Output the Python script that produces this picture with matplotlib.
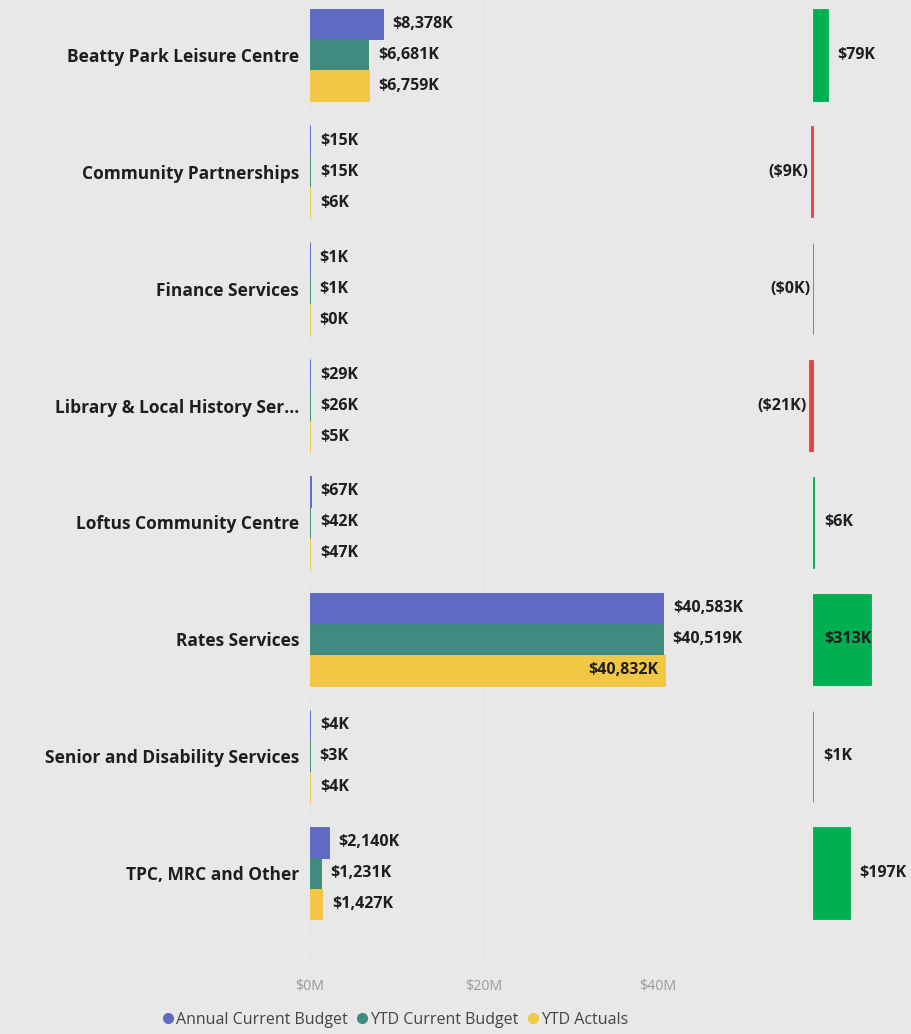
import matplotlib
matplotlib.use("Agg")
import matplotlib.pyplot as plt
from matplotlib.lines import Line2D

plt.rcParams['font.family'] = ['Open Sans', 'DejaVu Sans']

# data, values in $K
categories = ["Beatty Park Leisure Centre", "Community Partnerships", "Finance Services",
              "Library & Local History Ser...", "Loftus Community Centre", "Rates Services",
              "Senior and Disability Services", "TPC, MRC and Other"]
annual_budget = [8378, 15, 1, 29, 67, 40583, 4, 2140]
ytd_budget = [6681, 15, 1, 26, 42, 40519, 3, 1231]
ytd_actuals = [6759, 6, 0, 5, 47, 40832, 4, 1427]
variance = [79, -9, -0.4, -21, 6, 313, 1, 197]
series_names = ["Annual Current Budget", "YTD Current Budget", "YTD Actuals"]
x_ticks = [0, 20000, 40000]
x_tick_labels = ["$0M", "$20M", "$40M"]

colors = ["#5F6BC2", "#418A80", "#F2C744"]
bg = "#E8E8E8"
green = "#00B050"
red = "#E5433F"
txt_col = "#1E1E1E"

W, H = 912, 1034
fig = plt.figure(figsize=(W / 100, H / 100), dpi=100, facecolor=bg)

ax_top, ax_bot = 0, 962
ax = fig.add_axes([310 / W, 1 - ax_bot / H, 409 / W, (ax_bot - ax_top) / H])
ax2 = fig.add_axes([740 / W, 1 - ax_bot / H, 172 / W, (ax_bot - ax_top) / H])

n = len(categories)
ypos = list(range(n))
bh = 0.265
all_series = [annual_budget, ytd_budget, ytd_actuals]
vmax = max(max(s) for s in all_series)

for k, vals in enumerate(all_series):
    ys = [y + (k - 1) * bh for y in ypos]
    ax.barh(ys, vals, height=bh, color=colors[k], edgecolor=colors[k], linewidth=0.7)
    for y, v in zip(ys, vals):
        txt = f"${v:,.0f}K"
        if v == vmax:
            # biggest bar gets its label inside the end
            ax.annotate(txt, (v, y), xytext=(-5, 0), textcoords="offset points",
                        ha="right", va="center", fontsize=11.5, fontweight="bold", color=txt_col)
        else:
            ax.annotate(txt, (v, y), xytext=(7, 0), textcoords="offset points",
                        ha="left", va="center", fontsize=11.5, fontweight="bold", color=txt_col)

ax.set_xlim(0, 47000)
ax.set_ylim(7 + (ax_bot - 873) / 116.9, -55 / 116.9)
ax.set_yticks(ypos)
ax.set_yticklabels(categories, fontsize=12.5, fontweight="bold", color=txt_col)
ax.set_xticks(x_ticks)
ax.set_xticklabels(x_tick_labels, fontsize=10.3, color="#9A9A9A")
ax.tick_params(axis="both", length=0)
ax.tick_params(axis="y", pad=8)
ax.tick_params(axis="x", pad=12)
ax.grid(axis="x", linestyle=":", color="#DDDDDD", linewidth=0.8)
ax.set_axisbelow(True)
ax.set_facecolor("none")
for s in ax.spines.values():
    s.set_visible(False)

# variance panel (actuals vs ytd budget)
vcols = [green if v >= 0 else red for v in variance]
ax2.barh(ypos, variance, height=0.78, color=vcols, edgecolor=vcols, linewidth=0.6)
vtop = max(variance)
for y, v in zip(ypos, variance):
    if v < 0:
        txt = f"(${abs(v):,.0f}K)"
        ax2.annotate(txt, (v, y), xytext=(-2, 0), textcoords="offset points",
                     ha="right", va="center", fontsize=11.5, fontweight="bold", color=txt_col)
    elif v == vtop:
        ax2.annotate(f"${v:,.0f}K", (v, y), xytext=(0, 0), textcoords="offset points",
                     ha="right", va="center", fontsize=11.5, fontweight="bold", color=txt_col)
    else:
        ax2.annotate(f"${v:,.0f}K", (v, y), xytext=(7, 0), textcoords="offset points",
                     ha="left", va="center", fontsize=11.5, fontweight="bold", color=txt_col)
ax2.set_xlim(-392, 532)
ax2.set_ylim(ax.get_ylim())
ax2.axis("off")

handles = [Line2D([], [], marker="o", linestyle="", markersize=7, color=c) for c in colors]
fig.legend(handles, series_names, loc="center", bbox_to_anchor=(393 / W, 1 - 1020 / H),
           ncol=3, frameon=False, fontsize=11.5, handletextpad=-0.1, columnspacing=0.3,
           handlelength=1.2, labelcolor="#444444", borderpad=0)

fig.savefig("out.png", dpi=100, facecolor=bg)
